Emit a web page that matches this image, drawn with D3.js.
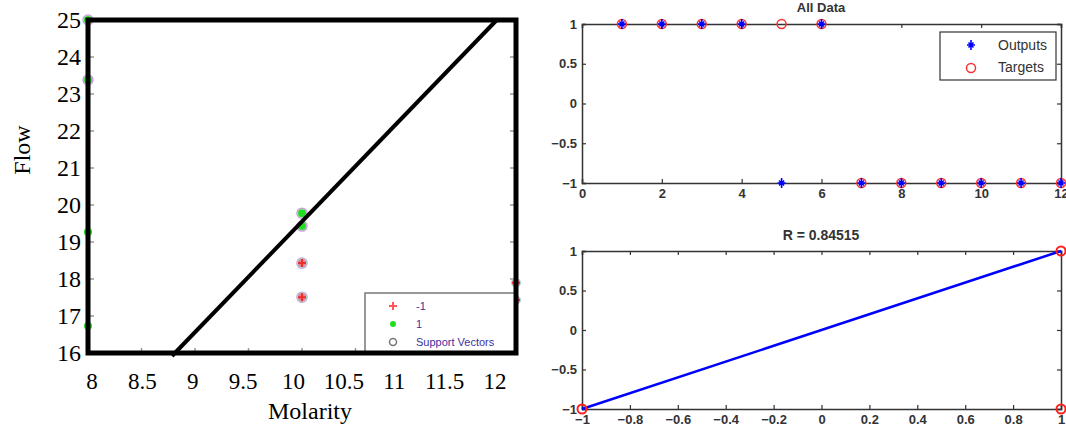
<!DOCTYPE html>
<html lang="en">
<head>
<meta charset="utf-8">
<script src="https://d3js.org/d3.v7.min.js"></script>
<style>
  body { margin: 0; background: #fff; }
  svg { display: block; }
</style>
</head>
<body>
<svg id="chart" width="1066" height="433"></svg>
<script>
// ---- data ----
// left: SVM classification, Molarity vs Flow
var negMolarity = [10, 10, 12, 12];
var negFlow = [18.43, 17.51, 17.9, 17.43];
var posMolarity = [8, 8, 8, 8, 10, 10];
var posFlow = [25, 23.38, 19.27, 16.73, 19.78, 19.43];
var svMolarity = [8, 8, 10, 10, 10, 10];
var svFlow = [25, 23.38, 19.78, 19.43, 18.43, 17.51];
var boundaryMolarity = [8.785, 11.82];
var boundaryFlow = [16, 25];
var molarityTicks = [8, 8.5, 9, 9.5, 10, 10.5, 11, 11.5, 12];
var flowTicks = [16, 17, 18, 19, 20, 21, 22, 23, 24, 25];

// top right: All Data
var sampleIndex = [1, 2, 3, 4, 5, 6, 7, 8, 9, 10, 11, 12];
var targets = [1, 1, 1, 1, 1, 1, -1, -1, -1, -1, -1, -1];
var outputs = [1, 1, 1, 1, -1, 1, -1, -1, -1, -1, -1, -1];
var indexTicks = [0, 2, 4, 6, 8, 10, 12];
var valueTicks = [-1, -0.5, 0, 0.5, 1];

// bottom right: regression
var fitX = [-1, 1];
var fitY = [-1, 1];
var regTargetX = [-1, 1, 1];
var regOutputY = [-1, 1, -1];
var regXTicks = [-1, -0.8, -0.6, -0.4, -0.2, 0, 0.2, 0.4, 0.6, 0.8, 1];

var svg = d3.select('#chart');
var serif = '"Liberation Serif", "Times New Roman", serif';
var sans = '"Liberation Sans", Arial, sans-serif';

// ================= left plot =================
var xL = d3.scaleLinear().domain([8, 12]).range([88, 516]);
var yL = d3.scaleLinear().domain([16, 25]).range([353, 20]);
// the tick labels in the picture sit on a slightly narrower span than the box
var xLabel = d3.scaleLinear().domain([8, 12]).range([92, 495]);

var left = svg.append('g');

// faint inner ticks
left.selectAll('.ytk')
  .data(flowTicks.slice(1, -1))
  .enter().append('line')
  .attr('x1', xL(8)).attr('x2', xL(8) + 6)
  .attr('y1', d => yL(d)).attr('y2', d => yL(d))
  .attr('stroke', '#999').attr('stroke-width', 1.5);
left.selectAll('.ytkr')
  .data(flowTicks.slice(1, -1))
  .enter().append('line')
  .attr('x1', xL(12)).attr('x2', xL(12) - 6)
  .attr('y1', d => yL(d)).attr('y2', d => yL(d))
  .attr('stroke', '#999').attr('stroke-width', 1.5);
left.selectAll('.xtk')
  .data(molarityTicks.slice(1, -1))
  .enter().append('line')
  .attr('x1', d => xL(d)).attr('x2', d => xL(d))
  .attr('y1', yL(16)).attr('y2', yL(16) - 5)
  .attr('stroke', '#999').attr('stroke-width', 1.5);

// support vectors
left.selectAll('.sv')
  .data(svMolarity)
  .enter().append('circle')
  .attr('cx', d => xL(d))
  .attr('cy', (d, i) => yL(svFlow[i]))
  .attr('r', 5)
  .attr('fill', 'none')
  .attr('stroke', '#c9a0d8')
  .attr('stroke-width', 1.5);

// class 1 (green)
left.selectAll('.pos')
  .data(posMolarity)
  .enter().append('circle')
  .attr('cx', d => xL(d))
  .attr('cy', (d, i) => yL(posFlow[i]))
  .attr('r', 4)
  .attr('fill', '#22dd22');

// class -1 (red +)
var neg = left.selectAll('.neg')
  .data(negMolarity)
  .enter().append('g')
  .attr('transform', (d, i) => 'translate(' + xL(d) + ',' + yL(negFlow[i]) + ')');
neg.append('circle').attr('r', 4.5).attr('fill', '#f08080')
  .attr('stroke', '#9dd').attr('stroke-width', 1);
neg.append('path').attr('d', 'M-4,0H4M0,-4V4').attr('stroke', '#e83030').attr('stroke-width', 2);

// decision boundary
left.append('line')
  .attr('x1', xL(boundaryMolarity[0])).attr('y1', yL(boundaryFlow[0]) + 3)
  .attr('x2', xL(boundaryMolarity[1])).attr('y2', yL(boundaryFlow[1]))
  .attr('stroke', '#000').attr('stroke-width', 4);

// legend (clipped by the frame on the right and bottom)
var lg = left.append('g');
lg.append('rect')
  .attr('x', 365).attr('y', 293).attr('width', 151).attr('height', 60)
  .attr('fill', '#fff').attr('stroke', '#777').attr('stroke-width', 1.5);
lg.append('path').attr('d', 'M389,306H397M393,302V310').attr('stroke', '#ff5555').attr('stroke-width', 2);
lg.append('circle').attr('cx', 393).attr('cy', 324).attr('r', 3).attr('fill', '#22dd22');
lg.append('circle').attr('cx', 393).attr('cy', 342).attr('r', 3.5)
  .attr('fill', 'none').attr('stroke', '#777').attr('stroke-width', 1.5);
lg.selectAll('text')
  .data(['-1', '1', 'Support Vectors'])
  .enter().append('text')
  .attr('x', 416).attr('y', (d, i) => 310 + i * 18)
  .attr('font-family', sans).attr('font-size', 11)
  .attr('fill', '#4030a0')
  .text(d => d);

// frame
left.append('rect')
  .attr('x', 88).attr('y', 20).attr('width', 428).attr('height', 333)
  .attr('fill', 'none').attr('stroke', '#000').attr('stroke-width', 5);

// tick labels
left.selectAll('.xl')
  .data(molarityTicks)
  .enter().append('text')
  .attr('x', d => xLabel(d)).attr('y', 389)
  .attr('text-anchor', 'middle')
  .attr('font-family', serif).attr('font-size', 23)
  .text(d => d);
left.selectAll('.yl')
  .data(flowTicks)
  .enter().append('text')
  .attr('x', 81).attr('y', d => yL(d) + 8)
  .attr('text-anchor', 'end')
  .attr('font-family', serif).attr('font-size', 24)
  .text(d => d);

left.append('text')
  .attr('transform', 'translate(30,150) rotate(-90)')
  .attr('text-anchor', 'middle')
  .attr('font-family', serif).attr('font-size', 24)
  .text('Flow');
left.append('text')
  .attr('x', 310).attr('y', 419)
  .attr('text-anchor', 'middle')
  .attr('font-family', serif).attr('font-size', 24)
  .text('Molarity');

// ================= helper for matlab-style boxes =================
function styleAxis(a) {
  a.select('.domain').attr('stroke', '#333').attr('stroke-width', 1.5);
  a.selectAll('.tick line').attr('stroke', '#333').attr('stroke-width', 1.2);
  a.selectAll('text')
    .attr('font-family', sans).attr('font-size', 13).attr('font-weight', 'bold')
    .attr('fill', '#333');
}
function matBox(g, x, y, xTicks, yTicks) {
  var x0 = x.range()[0], x1 = x.range()[1];
  var y0 = y.range()[0], y1 = y.range()[1];
  var tl = 4;
  g.append('g')
    .attr('transform', 'translate(0,' + y0 + ')')
    .call(d3.axisBottom(x).tickValues(xTicks).tickSize(-tl).tickPadding(6).tickFormat(d3.format('')))
    .call(styleAxis);
  g.append('g')
    .attr('transform', 'translate(0,' + y1 + ')')
    .call(d3.axisTop(x).tickValues(xTicks).tickSize(-tl).tickFormat(''))
    .call(styleAxis);
  g.append('g')
    .attr('transform', 'translate(' + x0 + ',0)')
    .call(d3.axisLeft(y).tickValues(yTicks).tickSize(-tl).tickPadding(5).tickFormat(d3.format('')))
    .call(styleAxis);
  g.append('g')
    .attr('transform', 'translate(' + x1 + ',0)')
    .call(d3.axisRight(y).tickValues(yTicks).tickSize(-tl).tickFormat(''))
    .call(styleAxis);
}
function star(g, cx, cy) {
  g.append('path')
    .attr('d', 'M' + (cx - 4) + ',' + cy + 'H' + (cx + 4) +
      'M' + cx + ',' + (cy - 5) + 'V' + (cy + 5) +
      'M' + (cx - 2.5) + ',' + (cy - 2.5) + 'L' + (cx + 2.5) + ',' + (cy + 2.5) +
      'M' + (cx + 2.5) + ',' + (cy - 2.5) + 'L' + (cx - 2.5) + ',' + (cy + 2.5))
    .attr('stroke', '#0000ff').attr('stroke-width', 1.6);
}

// ================= top right =================
var xT = d3.scaleLinear().domain([0, 12]).range([582, 1061]);
var yT = d3.scaleLinear().domain([-1, 1]).range([183, 24]);
var topG = svg.append('g');
matBox(topG, xT, yT, indexTicks, valueTicks);

topG.selectAll('.tg')
  .data(sampleIndex)
  .enter().append('circle')
  .attr('cx', d => xT(d))
  .attr('cy', (d, i) => yT(targets[i]))
  .attr('r', 4.5)
  .attr('fill', 'none').attr('stroke', '#ff3030').attr('stroke-width', 1.5);
sampleIndex.forEach(function(d, i) { star(topG, xT(d), yT(outputs[i])); });

topG.append('text')
  .attr('x', 821).attr('y', 12)
  .attr('text-anchor', 'middle')
  .attr('font-family', sans).attr('font-size', 13).attr('font-weight', 'bold')
  .attr('fill', '#333')
  .text('All Data');

var tleg = topG.append('g');
tleg.append('rect')
  .attr('x', 940).attr('y', 32).attr('width', 116).attr('height', 48)
  .attr('fill', '#fff').attr('stroke', '#333').attr('stroke-width', 1.2);
star(tleg, 971, 45);
tleg.append('circle').attr('cx', 971).attr('cy', 68).attr('r', 4.5)
  .attr('fill', 'none').attr('stroke', '#ff3030').attr('stroke-width', 1.5);
tleg.selectAll('text')
  .data(['Outputs', 'Targets'])
  .enter().append('text')
  .attr('x', 998).attr('y', (d, i) => 50 + i * 22)
  .attr('font-family', sans).attr('font-size', 14)
  .attr('fill', '#333')
  .text(d => d);

// ================= bottom right =================
var xB = d3.scaleLinear().domain([-1, 1]).range([582, 1061]);
var yB = d3.scaleLinear().domain([-1, 1]).range([409, 251]);
var botG = svg.append('g');
matBox(botG, xB, yB, regXTicks, valueTicks);

botG.append('line')
  .attr('x1', xB(fitX[0])).attr('y1', yB(fitY[0]))
  .attr('x2', xB(fitX[1])).attr('y2', yB(fitY[1]))
  .attr('stroke', '#0000ff').attr('stroke-width', 2.5);
botG.selectAll('.rp')
  .data(regTargetX)
  .enter().append('circle')
  .attr('cx', d => xB(d))
  .attr('cy', (d, i) => yB(regOutputY[i]))
  .attr('r', 4.5)
  .attr('fill', 'none').attr('stroke', '#ff2020').attr('stroke-width', 2);

botG.append('text')
  .attr('x', 821).attr('y', 240)
  .attr('text-anchor', 'middle')
  .attr('font-family', sans).attr('font-size', 14).attr('font-weight', 'bold')
  .attr('fill', '#333')
  .text('R = 0.84515');
</script>
</body>
</html>
